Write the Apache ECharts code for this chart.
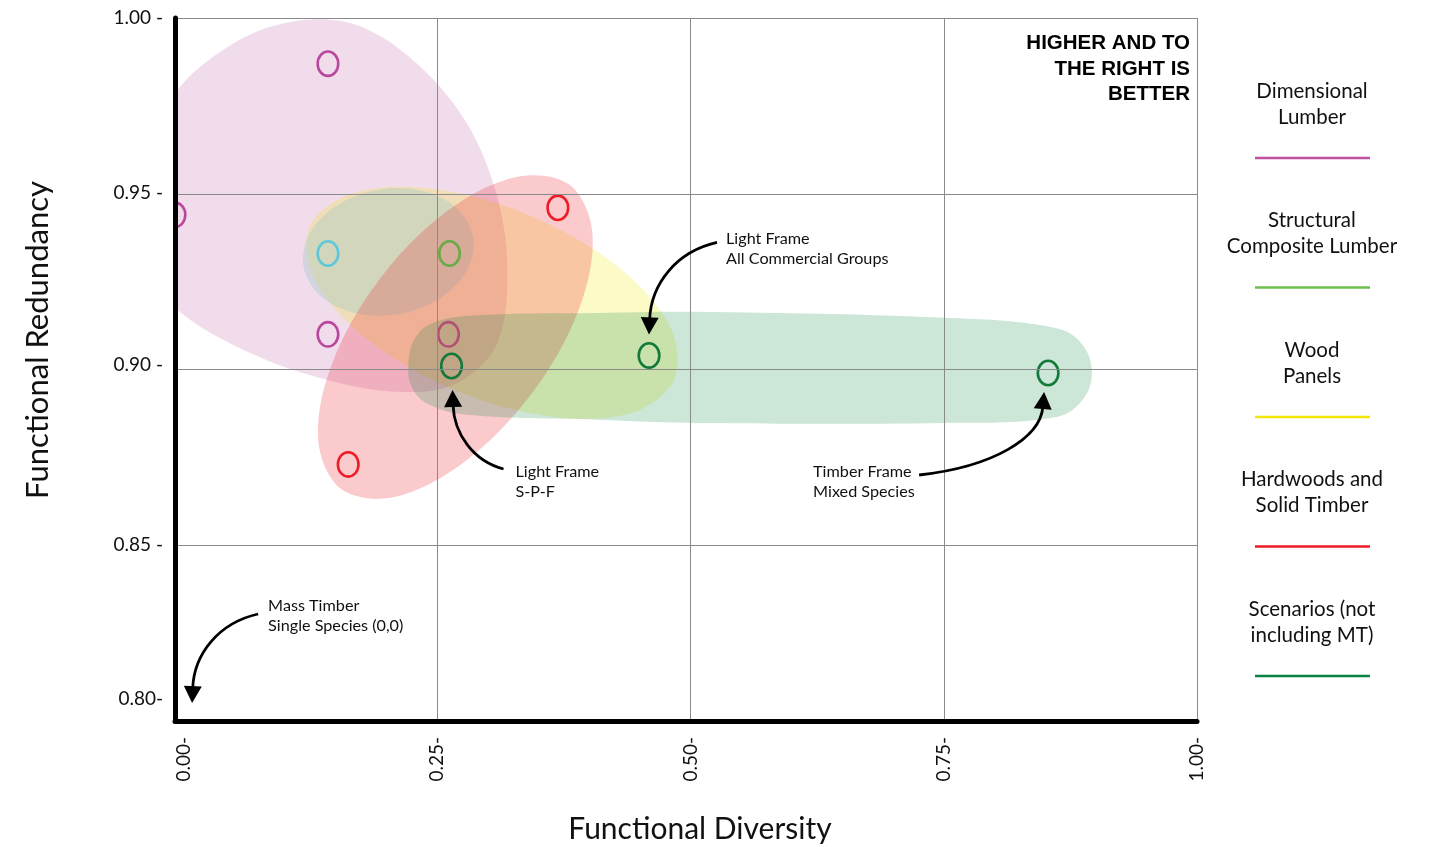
<!DOCTYPE html>
<html><head><meta charset="utf-8">
<script src="https://cdn.jsdelivr.net/npm/echarts@6/dist/echarts.min.js"></script>
<style>html,body{margin:0;padding:0;background:#fff}#chart{width:1435px;height:847px}</style>
</head><body><div id="chart"></div>
<script>
// ---------------- DATA ----------------
const xTickValues = [0, 0.25, 0.5, 0.75, 1.0];
const xTickLabels = ['0.00-', '0.25-', '0.50-', '0.75-', '1.00-'];
const yTickValues = [0.80, 0.85, 0.90, 0.95, 1.00];
const yTickLabels = ['0.80-', '0.85 -', '0.90 -', '0.95 -', '1.00 -'];

const seriesNames = ['Dimensional Lumber', 'Structural Composite Lumber', 'Wood Panels', 'Hardwoods and Solid Timber', 'Scenarios (not including MT)'];
const legendLabels = ['Dimensional\nLumber', 'Structural\nComposite Lumber', 'Wood\nPanels', 'Hardwoods and\nSolid Timber', 'Scenarios (not\nincluding MT)'];

// points [functional diversity, functional redundancy]
const dimensionalLumber = [[0.142, 0.987], [-0.009, 0.944], [0.142, 0.910], [0.261, 0.910]];
const structuralComposite = [[0.142, 0.933], [0.262, 0.933]];
const woodPanels = [];
const hardwoods = [[0.369, 0.946], [0.162, 0.873]];
const scenarios = [[0.264, 0.901], [0.459, 0.904], [0.853, 0.899]];

// group outlines (boundary points, data units)
const dimensionalLumberOutline = [[-0.0385, 0.9298], [-0.0435, 0.9540], [-0.0188, 0.9739], [0.0158, 0.9861], [0.0820, 0.9972], [0.1542, 0.9992], [0.2134, 0.9910], [0.2727, 0.9730], [0.3073, 0.9511], [0.3192, 0.9283], [0.3083, 0.9070], [0.2678, 0.8959], [0.2134, 0.8936], [0.1443, 0.8968], [0.0652, 0.9047], [-0.0069, 0.9170]];
const structuralCompositeOutline = [[0.2853, 0.9377], [0.2795, 0.9283], [0.2529, 0.9203], [0.2125, 0.9158], [0.1691, 0.9160], [0.1345, 0.9209], [0.1179, 0.9292], [0.1236, 0.9386], [0.1503, 0.9466], [0.1907, 0.9511], [0.2341, 0.9509], [0.2687, 0.9460]];
const woodPanelsOutline = [[0.4841, 0.8974], [0.4429, 0.8878], [0.3636, 0.8865], [0.2684, 0.8940], [0.1828, 0.9081], [0.1298, 0.9252], [0.1236, 0.9405], [0.1658, 0.9501], [0.2451, 0.9514], [0.3403, 0.9439], [0.4259, 0.9298], [0.4789, 0.9127]];
const hardwoodsOutline = [[0.3808, 0.9525], [0.4032, 0.9385], [0.3893, 0.9168], [0.3428, 0.8930], [0.2763, 0.8736], [0.2075, 0.8637], [0.1547, 0.8661], [0.1324, 0.8800], [0.1462, 0.9018], [0.1928, 0.9256], [0.2593, 0.9450], [0.3281, 0.9548]];
const scenariosOutline = [[0.2213, 0.9007], [0.2283, 0.9090], [0.248, 0.9135], [0.2955, 0.9155], [0.4111, 0.9161], [0.503, 0.9164], [0.750, 0.9147], [0.8557, 0.9121], [0.8844, 0.9079], [0.8962, 0.8990], [0.8844, 0.8905], [0.8557, 0.8862], [0.750, 0.8848], [0.503, 0.8848], [0.4081, 0.8857], [0.2796, 0.8871], [0.2431, 0.8899], [0.2263, 0.8942]];

// annotations
const annotationTexts = ['Light Frame\nAll Commercial Groups', 'Light Frame\nS-P-F', 'Timber Frame\nMixed Species', 'Mass Timber\nSingle Species (0,0)'];
const annotationTargets = [[0.459, 0.904], [0.264, 0.901], [0.853, 0.899], [0, 0.80]];

const cornerNote = 'HIGHER AND TO\nTHE RIGHT IS\nBETTER';
const xAxisTitle = 'Functional Diversity';
const yAxisTitle = 'Functional Redundancy';

// ---------------- STYLE / LAYOUT ----------------
const FONT = 'Lato, "Open Sans", sans-serif';
const legendColors = ['#bf52a1', '#6bbf4b', '#f4e600', '#ee1d25', '#0b8442'];
const pointColors = [['#b9479c', '#b9479c', '#b9479c', '#b44f78'], ['#5ec8d8', '#6aaa48'], ['#e6d800'], ['#ee1c25'], ['#137a3c']];
const blobFills = ['rgba(185,80,160,0.2)', 'rgba(145,200,200,0.32)', 'rgba(242,230,0,0.22)', 'rgba(238,28,37,0.23)', 'rgba(0,132,61,0.2)'];
const blobSmooth = [0.34, 0.34, 0.34, 0.34, 0.4];
const blobDrawOrder = [0, 2, 1, 3, 4];
const annotationLayout = [
  {tip: [0, -21], start: [68, -113], text: [77, -127]},
  {tip: [1, 24], start: [52, 103], text: [64, 96]},
  {tip: [-4, 19], start: [-129, 102], text: [-235, 89]},
  {tip: [8, -18], start: [74, -107], text: [84, -125]}
];
const yLabelShift = [22, 0, 5, 1, 0];

const pointSets = [dimensionalLumber, structuralComposite, woodPanels, hardwoods, scenarios];
const outlines = [dimensionalLumberOutline, structuralCompositeOutline, woodPanelsOutline, hardwoodsOutline, scenariosOutline];

const chart = echarts.init(document.getElementById('chart'), null, {renderer: 'canvas'});

const series = [];
// group regions
blobDrawOrder.forEach((k, n) => {
  const outline = outlines[k];
  series.push({
    type: 'custom', name: seriesNames[k] + ' region', coordinateSystem: 'cartesian2d',
    clip: true, silent: true, z: 2 + n * 0.01,
    data: [outline[0]],
    renderItem: (params, api) => ({
      type: 'polygon',
      shape: {points: outline.map(p => api.coord(p)), smooth: blobSmooth[k]},
      style: {fill: blobFills[k]}
    })
  });
});
// vertical grid lines
series.push({
  type: 'line', name: 'grid', data: [], silent: true, symbol: 'none',
  markLine: {
    silent: true, symbol: ['none', 'none'], label: {show: false}, animation: false,
    lineStyle: {color: '#8a8a8a', width: 1, type: 'solid'},
    data: xTickValues.slice(1).map(v => ({xAxis: v}))
  }
});
// points
pointSets.forEach((pts, k) => {
  series.push({
    type: 'custom', name: seriesNames[k], coordinateSystem: 'cartesian2d',
    clip: true, z: 4, data: pts,
    renderItem: (params, api) => {
      const c = api.coord([api.value(0), api.value(1)]);
      const cols = pointColors[k];
      return {
        type: 'ellipse',
        shape: {cx: c[0], cy: c[1], rx: 10.3, ry: 12.2},
        style: {fill: 'none', stroke: cols[params.dataIndex % cols.length], lineWidth: 2.6}
      };
    }
  });
});
// annotations
series.push({
  type: 'custom', name: 'annotations', coordinateSystem: 'cartesian2d',
  clip: false, silent: true, z: 6, data: annotationTargets,
  renderItem: (params, api) => {
    const i = params.dataIndex;
    const L = annotationLayout[i];
    const c = api.coord([api.value(0), api.value(1)]);
    const tip = [c[0] + L.tip[0], c[1] + L.tip[1]];
    const st = [c[0] + L.start[0], c[1] + L.start[1]];
    const dx = tip[0] - st[0], dy = tip[1] - st[1];
    const cp1 = [st[0] + 0.6 * dx, st[1] + 0.1 * dy];
    const cp2 = [tip[0] - 0.03 * dx, tip[1] - 0.55 * dy];
    let ux = tip[0] - cp2[0], uy = tip[1] - cp2[1];
    const len = Math.hypot(ux, uy); ux /= len; uy /= len;
    const hl = 17, hw = 9;
    const base = [tip[0] - ux * hl, tip[1] - uy * hl];
    const end = [tip[0] - ux * (hl - 2), tip[1] - uy * (hl - 2)];
    return {
      type: 'group',
      children: [
        {type: 'bezierCurve', shape: {x1: st[0], y1: st[1], cpx1: cp1[0], cpy1: cp1[1], cpx2: cp2[0], cpy2: cp2[1], x2: end[0], y2: end[1]},
          style: {stroke: '#000', lineWidth: 2.8, fill: 'none'}},
        {type: 'polygon', shape: {points: [tip, [base[0] - uy * hw, base[1] + ux * hw], [base[0] + uy * hw, base[1] - ux * hw]]},
          style: {fill: '#000'}},
        {type: 'text', x: c[0] + L.text[0], y: c[1] + L.text[1],
          style: {text: annotationTexts[i], font: '16.2px ' + FONT, fill: '#111', align: 'left', verticalAlign: 'top', lineHeight: 20}}
      ]
    };
  }
});

const graphics = [];
legendLabels.forEach((lab, i) => {
  const y0 = 78 + i * 129.5;
  graphics.push({type: 'text', x: 1312, y: y0, silent: true,
    style: {text: lab, font: '20.5px ' + FONT, fill: '#111', align: 'center', verticalAlign: 'top', lineHeight: 26}});
  graphics.push({type: 'line', x: 0, y: 0, silent: true,
    shape: {x1: 1255, y1: y0 + 80, x2: 1370, y2: y0 + 80}, style: {stroke: legendColors[i], lineWidth: 2.5}});
});
graphics.push({type: 'text', x: 1190, y: 31, silent: true,
  style: {text: cornerNote, font: 'bold 20.5px "Liberation Sans", Arial, sans-serif', fill: '#000', align: 'right', verticalAlign: 'top', lineHeight: 25.5}});
graphics.push({type: 'text', x: 700, y: 829, silent: true,
  style: {text: xAxisTitle, font: '30px ' + FONT, fill: '#111', align: 'center', verticalAlign: 'middle'}});
graphics.push({type: 'text', x: 38, y: 340, rotation: Math.PI / 2, silent: true,
  style: {text: yAxisTitle, font: '31px ' + FONT, fill: '#111', align: 'center', verticalAlign: 'middle'}});

const yRich = {};
yLabelShift.forEach(s => { if (s) yRich['g' + s] = {lineHeight: 2 * s, fontSize: 2}; });

chart.setOption({
  animation: false,
  backgroundColor: '#fff',
  grid: {left: 175, top: 18, right: 238, bottom: 126, containLabel: false},
  xAxis: {
    type: 'value', min: -0.009, max: 1.0, z: 10,
    axisLine: {show: true, onZero: false, lineStyle: {color: '#000', width: 5, cap: 'round'}},
    axisTick: {show: false},
    splitLine: {show: false},
    axisLabel: {
      customValues: xTickValues, rotate: 90, margin: 16, color: '#111', fontSize: 19, fontFamily: FONT,
      formatter: v => {
        let best = 0;
        xTickValues.forEach((t, i) => { if (Math.abs(t - v) < Math.abs(xTickValues[best] - v)) best = i; });
        return xTickLabels[best];
      }
    }
  },
  yAxis: {
    type: 'value', min: 0.80, max: 1.00, interval: 0.05, z: 10,
    axisLine: {show: true, onZero: false, lineStyle: {color: '#000', width: 5, cap: 'round'}},
    axisTick: {show: false},
    splitLine: {show: true, lineStyle: {color: '#8a8a8a', width: 1}},
    axisLabel: {
      margin: 12, color: '#111', fontSize: 19, fontFamily: FONT, rich: Object.assign({l: {fontSize: 19, fontFamily: FONT, color: '#111'}}, yRich),
      formatter: v => {
        let best = 0;
        yTickValues.forEach((t, i) => { if (Math.abs(t - v) < Math.abs(yTickValues[best] - v)) best = i; });
        const s = yLabelShift[best];
        return s ? '{l|' + yTickLabels[best] + '}\n{g' + s + '| }' : yTickLabels[best];
      }
    }
  },
  series: series,
  graphic: graphics
});
</script>
</body></html>
